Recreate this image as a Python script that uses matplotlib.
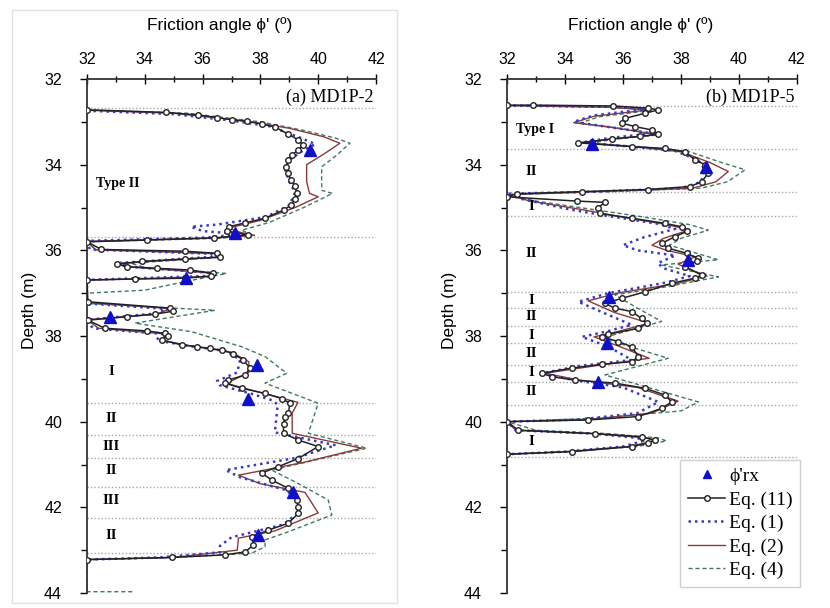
import numpy as np
import matplotlib.pyplot as plt
from matplotlib.patches import Rectangle
from matplotlib.lines import Line2D

# ---- data: (friction angle, depth) ----
# panel (a) MD1P-2
a_eq11 = [(32.0, 32.72), (34.73, 32.78), (35.85, 32.84), (36.5, 32.90), (37.0, 32.95), (37.54, 32.99),
          (38.04, 33.05), (38.5, 33.12), (38.95, 33.28), (39.3, 33.42), (39.47, 33.54), (39.3, 33.66),
          (39.1, 33.77), (38.95, 33.9), (38.9, 34.05), (38.95, 34.2), (39.05, 34.35), (39.2, 34.5),
          (39.25, 34.65), (39.2, 34.8), (39.05, 34.95), (38.8, 35.06), (38.16, 35.25), (37.47, 35.36),
          (36.9, 35.45), (36.85, 35.55), (37.57, 35.64), (36.4, 35.71), (34.06, 35.76), (32.0, 35.8),
          (32.5, 35.98), (35.39, 36.02), (36.49, 36.07), (36.6, 36.16), (35.4, 36.2), (33.9, 36.26),
          (33.03, 36.32), (33.37, 36.38), (34.41, 36.42), (35.56, 36.46), (36.36, 36.54), (36.3, 36.6),
          (35.4, 36.65), (33.66, 36.67), (32.0, 36.69), (32.03, 37.2), (34.87, 37.35), (34.99, 37.42),
          (34.35, 37.49), (33.37, 37.55), (32.03, 37.63), (32.62, 37.82), (34.06, 37.88), (34.7, 37.94),
          (34.81, 37.99), (34.58, 38.09), (35.28, 38.21), (35.8, 38.25), (36.26, 38.29), (36.66, 38.33),
          (37.06, 38.41), (37.41, 38.56), (37.64, 38.75), (37.47, 38.91), (36.89, 39.03), (36.78, 39.1),
          (37.35, 39.22), (38.16, 39.34), (38.74, 39.46), (39.02, 39.57), (38.97, 39.8), (38.85, 39.88),
          (38.8, 40.05), (38.8, 40.27), (39.31, 40.43), (40.0, 40.58), (39.31, 40.86), (38.62, 41.05),
          (38.04, 41.2), (38.39, 41.36), (38.97, 41.56), (39.26, 41.83), (39.31, 42.0), (39.31, 42.14),
          (38.97, 42.37), (38.28, 42.53), (37.7, 42.69), (37.76, 42.88), (37.47, 43.04), (36.78, 43.11),
          (34.93, 43.17), (32.0, 43.22)]
a_eq1 = [(32.0, 32.74), (35.0, 32.82), (37.0, 32.97), (38.3, 33.1), (39.3, 33.35), (39.9, 33.52),
         (39.4, 33.7), (39.0, 33.9), (38.85, 34.1), (39.0, 34.4), (39.2, 34.65), (39.0, 34.95),
         (38.2, 35.22), (36.5, 35.4), (35.6, 35.45), (36.0, 35.55), (37.3, 35.62), (36.2, 35.7),
         (32.0, 35.78), (32.1, 35.98), (36.3, 36.08), (36.4, 36.15), (33.0, 36.3), (33.4, 36.38),
         (36.2, 36.52), (36.1, 36.6), (32.0, 36.69), (32.0, 37.24), (34.8, 37.37), (34.3, 37.48),
         (32.0, 37.62), (32.2, 37.82), (34.6, 37.95), (34.4, 38.1), (35.5, 38.23), (36.8, 38.35),
         (37.3, 38.55), (37.2, 38.85), (36.5, 39.05), (36.6, 39.15), (37.7, 39.35), (38.4, 39.5),
         (38.6, 39.6), (38.5, 40.25), (40.6, 40.55), (39.2, 40.85), (36.8, 41.13), (37.3, 41.3),
         (38.9, 41.6), (39.3, 41.85), (39.3, 42.13), (38.8, 42.4), (37.0, 42.7), (36.6, 42.9),
         (36.6, 43.05), (34.5, 43.17), (32.0, 43.22)]
a_eq2 = [(32.0, 32.73), (35.0, 32.8), (37.5, 32.98), (39.0, 33.15), (40.2, 33.35), (40.75, 33.5),
         (40.2, 33.75), (39.6, 34.0), (39.6, 34.4), (39.7, 34.67), (40.0, 34.75), (39.2, 35.0),
         (38.0, 35.3), (36.9, 35.48), (37.3, 35.58), (37.8, 35.65), (36.5, 35.71), (32.0, 35.79),
         (32.3, 35.99), (36.4, 36.07), (36.5, 36.16), (33.2, 36.3), (33.5, 36.39), (36.3, 36.53),
         (36.2, 36.61), (32.0, 36.7), (32.0, 37.22), (34.9, 37.36), (34.4, 37.49), (32.0, 37.62),
         (32.4, 37.82), (34.7, 37.95), (34.6, 38.1), (35.5, 38.22), (37.0, 38.38), (37.6, 38.6),
         (37.6, 38.85), (37.0, 39.05), (36.9, 39.12), (38.0, 39.32), (39.3, 39.55), (39.1, 39.8),
         (39.1, 40.27), (41.5, 40.62), (39.5, 40.95), (37.24, 41.25), (38.0, 41.45), (39.54, 41.65),
         (40.0, 42.13), (38.5, 42.55), (37.24, 42.72), (37.2, 43.0), (35.0, 43.17), (32.0, 43.22)]
a_eq4 = [(32.0, 32.72), (35.5, 32.8), (38.0, 33.0), (39.5, 33.2), (40.6, 33.38), (41.1, 33.5),
         (40.6, 33.8), (40.12, 34.05), (40.12, 34.6), (40.5, 34.67), (39.5, 35.0), (38.3, 35.35),
         (37.35, 35.53), (37.7, 35.64), (36.6, 35.72), (32.0, 35.8), (32.3, 35.98), (36.5, 36.08),
         (36.7, 36.16), (33.5, 36.3), (34.0, 36.4), (36.83, 36.54), (35.39, 36.73), (34.0, 36.93),
         (32.0, 37.0), (32.0, 37.24), (36.43, 37.4), (33.66, 37.7), (35.62, 37.9), (37.35, 38.25),
         (38.16, 38.48), (38.91, 38.87), (38.16, 39.1), (40.0, 39.57), (39.66, 40.27), (41.68, 40.62),
         (38.39, 41.13), (39.3, 41.44), (40.35, 41.83), (40.47, 42.18), (38.85, 42.6), (38.16, 42.76),
         (38.16, 42.92), (37.7, 43.07), (35.0, 43.17), (32.0, 43.22), (32.0, 43.97), (33.6, 43.97)]
a_rx_phi = [39.72, 37.12, 35.41, 32.8, 37.87, 37.58, 39.14, 37.93]
a_rx_depth = [33.66, 35.6, 36.65, 37.56, 38.68, 39.46, 41.64, 42.65]
a_bounds = [32.68, 35.68, 39.57, 40.31, 40.84, 41.52, 42.24, 43.07]
a_types = ["Type II", "I", "II", "III", "II", "III", "II"]
a_type_depth = [34.45, 38.83, 39.92, 40.58, 41.13, 41.83, 42.65]

# panel (b) MD1P-5
b_eq11 = [(32.0, 32.61), (32.9, 32.61), (35.67, 32.63), (36.87, 32.68), (37.22, 32.72), (36.76, 32.8),
          (36.07, 32.92), (35.95, 33.03), (36.41, 33.11), (36.99, 33.19), (37.22, 33.29), (36.59, 33.34),
          (35.61, 33.4), (34.92, 33.46), (34.46, 33.49), (36.3, 33.58), (37.45, 33.62), (38.14, 33.7),
          (38.48, 33.89), (38.83, 34.0), (38.94, 34.2), (38.71, 34.4), (38.31, 34.51), (36.87, 34.58),
          (34.58, 34.63), (32.33, 34.68), (32.0, 34.75), (34.4, 34.85), (35.38, 34.88), (35.14, 35.0),
          (35.2, 35.14), (36.3, 35.25), (37.45, 35.37), (38.02, 35.45), (38.2, 35.56), (37.79, 35.68),
          (37.33, 35.84), (37.56, 35.95), (38.2, 36.07), (38.6, 36.19), (38.54, 36.26), (38.14, 36.38),
          (38.71, 36.58), (38.48, 36.65), (37.68, 36.77), (36.76, 36.97), (35.96, 37.12), (35.38, 37.24),
          (35.72, 37.35), (36.3, 37.43), (36.64, 37.59), (36.82, 37.7), (36.53, 37.82), (35.49, 37.96),
          (35.27, 38.02), (35.84, 38.13), (36.3, 38.25), (36.53, 38.48), (36.3, 38.6), (35.27, 38.66),
          (34.23, 38.75), (33.2, 38.87), (33.54, 38.95), (34.34, 39.03), (35.72, 39.1), (36.76, 39.22),
          (37.45, 39.38), (37.68, 39.54), (37.33, 39.69), (36.53, 39.88), (34.8, 39.96), (32.0, 40.0),
          (32.39, 40.2), (35.03, 40.28), (36.64, 40.35), (37.1, 40.43), (36.87, 40.5), (36.3, 40.58),
          (34.23, 40.7), (32.0, 40.76)]
b_eq1 = [(32.0, 32.62), (35.5, 32.65), (36.8, 32.7), (35.0, 32.85), (34.3, 33.0), (35.5, 33.12),
         (37.0, 33.27), (35.5, 33.38), (34.6, 33.48), (36.3, 33.58), (37.8, 33.68), (38.6, 33.9),
         (38.8, 34.1), (38.7, 34.4), (38.0, 34.55), (35.0, 34.63), (32.0, 34.68), (32.5, 34.8),
         (34.2, 35.05), (35.5, 35.2), (37.2, 35.38), (37.8, 35.5), (36.7, 35.7), (36.0, 35.88),
         (36.5, 36.0), (37.8, 36.12), (37.2, 36.3), (37.4, 36.42), (38.3, 36.6), (37.5, 36.75),
         (35.5, 37.0), (34.46, 37.2), (35.3, 37.45), (36.3, 37.74), (35.4, 37.9), (34.58, 38.02),
         (35.5, 38.25), (36.3, 38.56), (34.5, 38.7), (33.2, 38.87), (34.3, 39.03), (36.0, 39.2),
         (37.22, 39.54), (36.5, 39.8), (34.5, 39.95), (32.0, 40.0), (32.3, 40.2), (35.0, 40.28),
         (36.5, 40.38), (36.7, 40.45), (36.0, 40.58), (34.0, 40.7), (32.0, 40.76)]
b_eq2 = [(32.0, 32.62), (35.5, 32.66), (36.9, 32.72), (35.0, 32.87), (34.3, 33.02), (35.6, 33.13),
         (37.2, 33.3), (35.6, 33.4), (34.6, 33.48), (36.4, 33.58), (38.0, 33.7), (39.0, 33.95),
         (39.63, 34.16), (39.2, 34.4), (38.4, 34.55), (35.0, 34.63), (32.0, 34.7), (32.8, 34.85),
         (34.6, 35.05), (35.8, 35.2), (37.5, 35.4), (38.3, 35.52), (37.4, 35.72), (37.0, 35.88),
         (37.5, 36.0), (38.5, 36.15), (37.9, 36.32), (38.2, 36.42), (38.9, 36.6), (37.9, 36.77),
         (35.8, 37.0), (34.8, 37.18), (35.7, 37.45), (36.9, 37.7), (35.8, 37.9), (35.0, 38.02),
         (35.9, 38.25), (36.9, 38.52), (35.0, 38.7), (33.3, 38.87), (34.5, 39.03), (36.5, 39.2),
         (37.9, 39.52), (37.0, 39.8), (34.8, 39.95), (32.0, 40.0), (32.3, 40.2), (35.0, 40.28),
         (36.8, 40.38), (37.1, 40.45), (36.2, 40.58), (34.0, 40.7), (32.0, 40.76)]
b_eq4 = [(32.0, 32.62), (35.8, 32.66), (37.0, 32.73), (35.2, 32.88), (34.5, 33.03), (35.8, 33.14),
         (37.3, 33.3), (35.8, 33.4), (34.8, 33.5), (36.6, 33.58), (38.3, 33.7), (39.4, 33.95),
         (40.21, 34.12), (39.6, 34.4), (38.7, 34.55), (35.5, 34.63), (32.0, 34.7), (33.0, 34.85),
         (35.0, 35.05), (36.5, 35.2), (38.3, 35.4), (38.94, 35.53), (38.0, 35.72), (37.6, 35.88),
         (38.2, 36.0), (39.29, 36.22), (37.33, 36.34), (39.29, 36.62), (37.5, 36.85), (35.72, 37.04),
         (36.5, 37.35), (37.33, 37.66), (35.27, 38.05), (37.56, 38.52), (35.38, 38.91), (38.6, 39.54),
         (38.0, 39.75), (35.0, 39.92), (32.0, 40.0), (33.0, 40.2), (35.5, 40.28), (37.2, 40.38),
         (37.5, 40.45), (36.5, 40.58), (34.2, 40.7), (32.0, 40.76)]
b_rx_phi = [34.92, 38.86, 38.23, 35.52, 35.46, 35.13]
b_rx_depth = [33.51, 34.05, 36.22, 37.08, 38.17, 39.07]
b_bounds = [32.63, 33.64, 34.63, 35.21, 36.98, 37.35, 37.76, 38.17, 38.68, 39.07, 39.61, 40.82]
b_types = ["Type I", "II", "I", "II", "I", "II", "I", "II", "I", "II", "I"]
b_type_depth = [33.19, 34.16, 34.98, 36.07, 37.16, 37.55, 37.98, 38.4, 38.85, 39.3, 40.47]

serif = ['Liberation Serif', 'DejaVu Serif']
sans = ['Liberation Sans', 'DejaVu Sans']
plt.rcParams['font.family'] = sans

c11 = '#222222'
c1 = '#3a3ac8'
c2 = '#8b3a3a'
c4 = '#3f7a62'


def draw_panel(ax, eq11, eq1, eq2, eq4, rx_phi, rx_depth, bounds, types, type_depth, tag):
    for d in bounds:
        ax.axhline(d, color='#a8a8a8', lw=1.0, ls=(0, (1, 1.5)), zorder=1)
    x, y = zip(*eq4)
    ax.plot(x, y, color=c4, lw=1.0, ls=(0, (3, 2)), zorder=2)
    x, y = zip(*eq2)
    ax.plot(x, y, color=c2, lw=1.0, zorder=3)
    x, y = zip(*eq1)
    ax.plot(x, y, color=c1, lw=1.8, ls=(0, (1, 1.6)), zorder=4)
    x, y = zip(*eq11)
    ax.plot(x, y, color=c11, lw=1.1, marker='o', ms=4, mfc='white', mec=c11, mew=1.0, zorder=5)
    ax.plot(rx_phi, rx_depth, ls='none', marker='^', ms=8, color='#1010cc', zorder=6)

    for t, d in zip(types, type_depth):
        if t.startswith('Type'):
            ax.text(32.3, d, t, fontsize=10, fontweight='bold', family=serif, ha='left', va='center')
        else:
            ax.text(32.85, d, t, fontsize=10.5, fontweight='bold', family=serif, ha='center', va='center')
    ax.text(41.9, 32.42, tag, fontsize=13, family=serif, ha='right', va='center')

    ax.set_xlim(32, 42)
    ax.set_ylim(44, 32)
    ax.xaxis.tick_top()
    ax.set_xticks(np.arange(32, 43, 2))
    ax.set_xticks(np.arange(33, 42, 2), minor=True)
    ax.set_yticks(np.arange(32, 45, 2))
    ax.set_yticks(np.arange(33, 44, 2), minor=True)
    ax.tick_params(axis='x', which='major', direction='inout', length=7, width=1.0, pad=5, labelsize=11.5)
    ax.tick_params(axis='x', which='minor', direction='inout', length=5, width=1.0)
    ax.tick_params(axis='y', which='major', direction='out', length=5, width=1.0, pad=13, labelsize=11.5)
    ax.tick_params(axis='y', which='minor', direction='out', length=4, width=1.0)
    for s in ['right', 'bottom']:
        ax.spines[s].set_visible(False)
    ax.spines['left'].set_linewidth(1.3)
    ax.spines['top'].set_linewidth(1.3)
    ax.spines['left'].set_color('#333333')
    ax.spines['top'].set_color('#333333')
    ax.text(0.46, 1.105, "Friction angle \u03d5' (\u00ba)", transform=ax.transAxes,
            ha='center', va='center', fontsize=12.5)
    ax.text(-0.2, 0.55, 'Depth (m)', transform=ax.transAxes, rotation=90,
            ha='center', va='center', fontsize=12.5)


fig = plt.figure(figsize=(8.3, 6.08), dpi=100)
fig.patches.append(Rectangle((12 / 830, 5 / 608), 385 / 830, 593 / 608, transform=fig.transFigure,
                             fill=False, edgecolor='#e2e2e2', lw=1.0))

ax1 = fig.add_axes([87 / 830, 15 / 608, 289 / 830, 514 / 608])
ax2 = fig.add_axes([507 / 830, 15 / 608, 290 / 830, 514 / 608])
ax1.patch.set_alpha(0)
ax2.patch.set_alpha(0)

draw_panel(ax1, a_eq11, a_eq1, a_eq2, a_eq4, a_rx_phi, a_rx_depth, a_bounds, a_types, a_type_depth, '(a) MD1P-2')
draw_panel(ax2, b_eq11, b_eq1, b_eq2, b_eq4, b_rx_phi, b_rx_depth, b_bounds, b_types, b_type_depth, '(b) MD1P-5')

handles = [
    Line2D([], [], ls='none', marker='^', ms=6, color='#1010cc'),
    Line2D([], [], color=c11, lw=1.1, marker='o', ms=4, mfc='white', mec=c11),
    Line2D([], [], color=c1, lw=1.8, ls=(0, (1, 1.6))),
    Line2D([], [], color=c2, lw=1.0),
    Line2D([], [], color=c4, lw=1.0, ls=(0, (3, 2))),
]
labels = ["\u03d5'rx", 'Eq. (11)', 'Eq. (1)', 'Eq. (2)', 'Eq. (4)']
leg = ax2.legend(handles, labels, loc='lower right', bbox_to_anchor=(1.012, 0.012),
                 prop={'family': serif, 'size': 14}, frameon=True, fancybox=False,
                 edgecolor='#d0d0d0', framealpha=1, handlelength=1.9, handletextpad=0.2,
                 labelspacing=0.3, borderpad=0.4, borderaxespad=0)
leg.get_frame().set_linewidth(1.0)
leg.set_zorder(10)

fig.savefig('out.png', dpi=100)
